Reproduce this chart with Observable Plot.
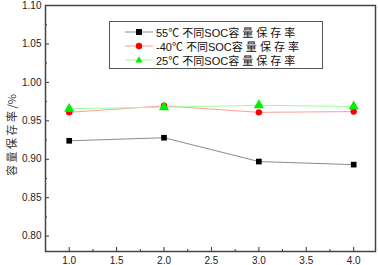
<!DOCTYPE html>
<html><head><meta charset="utf-8">
<script src="https://cdn.jsdelivr.net/npm/d3@7"></script>
<script src="https://cdn.jsdelivr.net/npm/@observablehq/plot@0.6"></script>
<style>
body{margin:0;background:#fff;}
#wrap{position:relative;width:378px;height:265px;font-family:"Liberation Sans",Arial,sans-serif;}
#legend{position:absolute;left:109px;top:21px;width:212px;height:46px;border:1px solid #555;background:#fff;font-size:11px;}
.row{position:absolute;left:0;height:14px;display:flex;align-items:center;white-space:nowrap;}
.row svg{margin-left:15px;}
.row span{margin-left:3px;font-family:"Liberation Sans","Noto Sans CJK SC",sans-serif;color:#111;}
#ylab{position:absolute;left:11px;top:135px;transform:translate(-50%,-50%) rotate(-90deg);font-size:11px;font-family:"Noto Sans CJK SC",sans-serif;color:#333;white-space:nowrap;}
</style></head>
<body><div id="wrap"></div>
<script>
const xs = [1.0, 2.0, 3.0, 4.0];
const s55 = [0.924, 0.928, 0.897, 0.893];
const sM40 = [0.961, 0.9695, 0.961, 0.962];
const s25 = [0.9656, 0.9677, 0.9703, 0.9686];
const seriesNames = ["55℃ 不同SOC容 量 保 存 率", "-40℃ 不同SOC容 量 保 存 率", "25℃ 不同SOC容 量 保 存 率"];
const xTicks = [1.0, 1.5, 2.0, 2.5, 3.0, 3.5, 4.0];
const xMinor = [0.75, 1.25, 1.75, 2.25, 2.75, 3.25, 3.75];
const yTicks = [0.80, 0.85, 0.90, 0.95, 1.00, 1.05, 1.10];
const yMinor = [0.825, 0.875, 0.925, 0.975, 1.025, 1.075];
const yLabel = "容 量 保 存 率 /%";

const styles = [
  {line: "#8c8c8c", fill: "#000", symbol: "square", r: 3.2},
  {line: "#ff9c9c", fill: "#ff0000", symbol: "circle", r: 3.2},
  {line: "#9cff9c", fill: "#00ee00", symbol: "triangle", r: 3.8}
];
const vals = [s55, sM40, s25];
const data = [];
vals.forEach((arr, i) => arr.forEach((v, j) => data.push({x: xs[j], y: v, s: i})));

const marks = [];
styles.forEach((st, i) => {
  const d = data.filter(e => e.s === i);
  marks.push(Plot.line(d, {x: "x", y: "y", stroke: st.line, strokeWidth: 1}));
});
styles.forEach((st, i) => {
  const d = data.filter(e => e.s === i);
  marks.push(Plot.dot(d, {x: "x", y: "y", symbol: () => st.symbol, fill: st.fill, r: st.r, stroke: "none"}));
});

const chart = Plot.plot({
  width: 378, height: 265,
  marginLeft: 45, marginRight: 3, marginTop: 5, marginBottom: 14,
  style: {fontFamily: "'Liberation Sans', Arial, sans-serif", fontSize: "10px", color: "#222", background: "#fff"},
  x: {domain: [0.75, 4.23]},
  y: {domain: [0.78, 1.10]},
  symbol: {type: "identity"},
  marks: [
    ...marks,
    Plot.axisX({ticks: xTicks, tickFormat: d3.format(".1f"), tickSize: -4, tickPadding: 9, label: null, stroke: "#333"}),
    Plot.axisX({ticks: xMinor, tickFormat: null, text: null, tickSize: -2, label: null, stroke: "#333"}),
    Plot.axisY({ticks: yTicks, tickFormat: d3.format(".2f"), tickSize: -4, tickPadding: 8, label: null, stroke: "#333"}),
    Plot.axisY({ticks: yMinor, text: null, tickSize: -2, label: null, stroke: "#333"}),
    Plot.frame({stroke: "#444", strokeWidth: 1.5})
  ]
});
const wrap = document.getElementById("wrap");
wrap.appendChild(chart);

const yl = document.createElement("div");
yl.id = "ylab"; yl.textContent = yLabel;
wrap.appendChild(yl);

const lg = document.createElement("div");
lg.id = "legend";
const rowTops = [3, 17, 31];
styles.forEach((st, i) => {
  const row = document.createElement("div");
  row.className = "row";
  row.style.top = rowTops[i] + "px";
  let shape;
  if (st.symbol === "square") shape = `<rect x="11" y="4" width="6" height="6" fill="${st.fill}"/>`;
  else if (st.symbol === "circle") shape = `<circle cx="14" cy="7" r="3.2" fill="${st.fill}"/>`;
  else shape = `<path d="M14,3.2 L17.6,9.6 L10.4,9.6 Z" fill="${st.fill}"/>`;
  row.innerHTML = `<svg width="28" height="14"><line x1="0" y1="7" x2="28" y2="7" stroke="${st.line}" stroke-width="1"/>${shape}</svg><span>${seriesNames[i]}</span>`;
  lg.appendChild(row);
});
wrap.appendChild(lg);
</script></body></html>
